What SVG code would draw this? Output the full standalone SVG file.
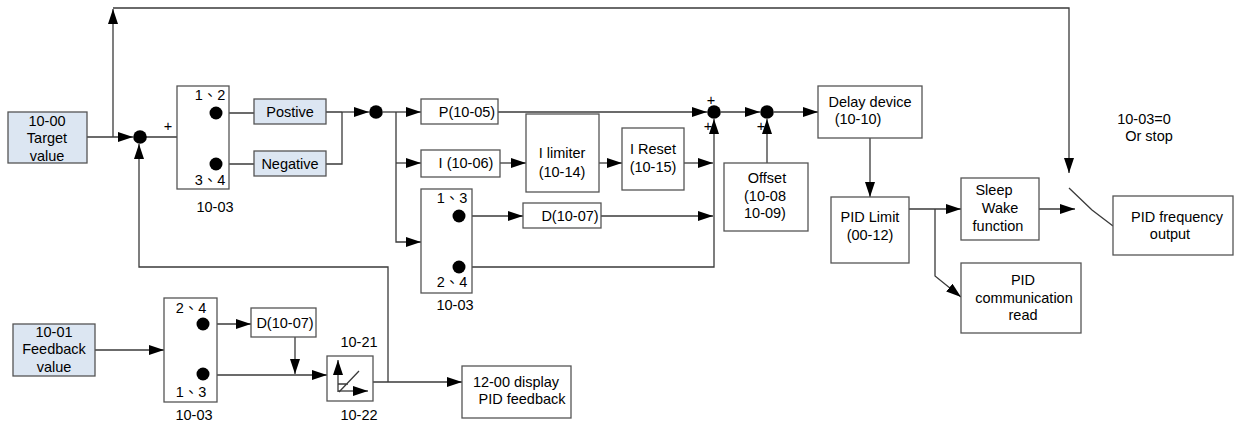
<svg xmlns="http://www.w3.org/2000/svg" width="1234" height="425" viewBox="0 0 1234 425">
<defs>
<marker id="ah" markerUnits="userSpaceOnUse" markerWidth="15" markerHeight="10" refX="15" refY="5" orient="auto">
<path d="M0,0 L15,5 L0,10 z" fill="#000"/>
</marker>
<style>
.box{fill:#fff;stroke:#555;stroke-width:1.3}
.blue{fill:#dce6f2;stroke:#555;stroke-width:1.3}
.ln{fill:none;stroke:#3a3a3a;stroke-width:1.3}
.ar{fill:none;stroke:#3a3a3a;stroke-width:1.3;marker-end:url(#ah)}
.dot{fill:#000}
text{font-family:"Liberation Sans","Noto Sans CJK TC",Arial,sans-serif;font-size:14.5px;fill:#000;text-anchor:middle}
</style>
</defs>
<rect width="1234" height="425" fill="#fff"/>

<g id="connectors">
<path class="ar" d="M87,137 H133"/>
<path class="ar" d="M113,137 V9"/>
<path class="ar" d="M113,8 H1069 V173"/>
<path class="ln" d="M146,137 H193 L213,116"/>
<path class="ln" d="M216,113 H254"/>
<path class="ln" d="M216,164 H254"/>
<path class="ln" d="M326,112 H342 M326,164 H342 V112"/>
<path class="ar" d="M342,112 H369"/>
<path class="ln" d="M383,112 H396"/>
<path class="ar" d="M396,112 H421"/>
<path class="ar" d="M396,163 H421"/>
<path class="ar" d="M396,112 V242 H421"/>
<path class="ln" d="M421,242 H437 L455,220"/>
<path class="ar" d="M498,112 H707"/>
<path class="ar" d="M500,163 H526"/>
<path class="ar" d="M599,163 H622"/>
<path class="ar" d="M684,163 H713"/>
<path class="ar" d="M459,216 H523"/>
<path class="ar" d="M601,216 H713"/>
<path class="ar" d="M459,267 H714 V119"/>
<path class="ar" d="M721,112 H760"/>
<path class="ar" d="M767,163 V119"/>
<path class="ar" d="M774,112 H818"/>
<path class="ar" d="M870,138 V197"/>
<path class="ar" d="M909,209 H961"/>
<path class="ar" d="M935,209 V276 L961,297"/>
<path class="ar" d="M1039,209 H1075"/>
<path class="ln" d="M1069,188 L1092,210 L1113,226"/>
<path class="ar" d="M95,350 H164"/>
<path class="ln" d="M164,350 H180 L200,328"/>
<path class="ar" d="M217,324 H251"/>
<path class="ar" d="M295,337 V374"/>
<path class="ar" d="M203,375 H327"/>
<path class="ar" d="M373,382 H462"/>
<path class="ar" d="M388,382 V267 H139 V144"/>
</g>

<g id="junctions">
<circle class="dot" cx="140" cy="137" r="6.8"/>
<circle class="dot" cx="376" cy="112" r="6.8"/>
<circle class="dot" cx="714" cy="112" r="6.8"/>
<circle class="dot" cx="767" cy="112" r="6.8"/>
<text x="168" y="131">+</text>
<text x="711" y="105">+</text>
<text x="708" y="131">+</text>
<text x="761" y="131">+</text>
</g>

<g id="target">
<rect class="blue" x="8" y="112" width="79" height="51"/>
<text x="47" y="126">10-00</text>
<text x="47" y="143">Target</text>
<text x="47" y="161">value</text>
</g>

<g id="switch1">
<rect class="box" x="177" y="86" width="52" height="103"/>
<circle class="dot" cx="216" cy="113" r="6.5"/>
<circle class="dot" cx="216" cy="164" r="6.5"/>
<text x="210" y="100">1、2</text>
<text x="210" y="185">3、4</text>
<text x="215" y="212">10-03</text>
</g>

<g id="positive">
<rect class="blue" x="254" y="99" width="72" height="25"/>
<text x="290" y="117">Postive</text>
</g>
<g id="negative">
<rect class="blue" x="254" y="151" width="72" height="25"/>
<text x="290" y="169">Negative</text>
</g>

<g id="p">
<rect class="box" x="421" y="99" width="77" height="25"/>
<text x="467" y="117">P(10-05)</text>
</g>
<g id="i">
<rect class="box" x="421" y="150" width="79" height="27"/>
<text x="466" y="168">I (10-06)</text>
</g>
<g id="ilimiter">
<rect class="box" x="526" y="114" width="73" height="78"/>
<text x="562" y="158">I limiter</text>
<text x="562" y="177">(10-14)</text>
</g>
<g id="ireset">
<rect class="box" x="622" y="128" width="62" height="62"/>
<text x="653" y="154">I Reset</text>
<text x="653" y="172">(10-15)</text>
</g>

<g id="switch2">
<rect class="box" x="421" y="189" width="51" height="104"/>
<circle class="dot" cx="459" cy="216" r="6.5"/>
<circle class="dot" cx="459" cy="267" r="6.5"/>
<text x="452" y="203">1、3</text>
<text x="452" y="287">2、4</text>
<text x="455" y="310">10-03</text>
</g>
<g id="d1">
<rect class="box" x="523" y="203" width="78" height="25"/>
<text x="570" y="221">D(10-07)</text>
</g>

<g id="offset">
<rect class="box" x="724" y="163" width="84" height="68"/>
<text x="767" y="183">Offset</text>
<text x="765" y="201">(10-08</text>
<text x="765" y="218">10-09)</text>
</g>

<g id="delay">
<rect class="box" x="818" y="86" width="104" height="52"/>
<text x="870" y="107">Delay device</text>
<text x="858" y="124">(10-10)</text>
</g>
<g id="pidlimit">
<rect class="box" x="831" y="197" width="78" height="66"/>
<text x="870" y="222">PID Limit</text>
<text x="870" y="240">(00-12)</text>
</g>
<g id="sleep">
<rect class="box" x="961" y="178" width="78" height="62"/>
<text x="994" y="195">Sleep</text>
<text x="1000" y="213">Wake</text>
<text x="998" y="231">function</text>
</g>
<g id="comm">
<rect class="box" x="961" y="263" width="120" height="70"/>
<text x="1023" y="285">PID</text>
<text x="1024" y="303">communication</text>
<text x="1023" y="320">read</text>
</g>
<g id="stoplabel">
<text x="1144" y="124">10-03=0</text>
<text x="1149" y="141">Or stop</text>
</g>
<g id="pidout">
<rect class="box" x="1113" y="196" width="120" height="59"/>
<text x="1177" y="222">PID frequency</text>
<text x="1170" y="239">output</text>
</g>

<g id="feedback">
<rect class="blue" x="13" y="324" width="82" height="52"/>
<text x="54" y="337">10-01</text>
<text x="54" y="354">Feedback</text>
<text x="54" y="372">value</text>
</g>
<g id="switch3">
<rect class="box" x="164" y="298" width="53" height="104"/>
<circle class="dot" cx="203" cy="324" r="6.5"/>
<circle class="dot" cx="203" cy="374" r="6.5"/>
<text x="191" y="313">2、4</text>
<text x="191" y="397">1、3</text>
<text x="194" y="420">10-03</text>
</g>
<g id="d2">
<rect class="box" x="251" y="308" width="65" height="29"/>
<text x="285" y="328">D(10-07)</text>
</g>
<g id="limit1021">
<rect class="box" x="327" y="356" width="46" height="45"/>
<path class="ar" d="M338,392 V360"/>
<path class="ar" d="M338,391 H368"/>
<path class="ln" d="M338,384 H348 M339,392 L359,371"/>
<text x="359" y="347">10-21</text>
<text x="359" y="420">10-22</text>
</g>
<g id="display">
<rect class="box" x="462" y="366" width="109" height="52"/>
<text x="516" y="387">12-00  display</text>
<text x="522" y="404">PID feedback</text>
</g>
</svg>
